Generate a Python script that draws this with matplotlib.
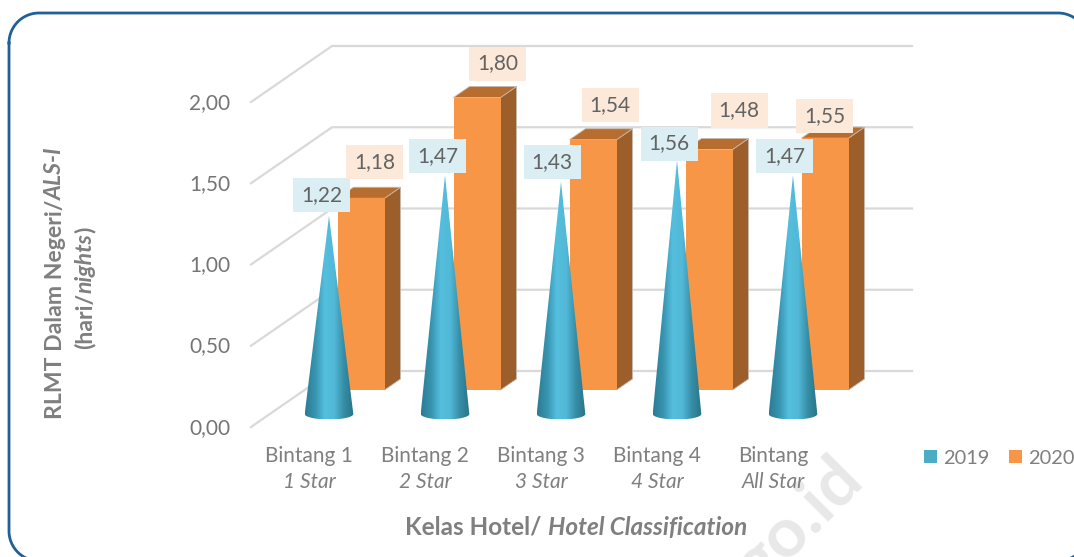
import numpy as np
import matplotlib
matplotlib.use("Agg")
import matplotlib.pyplot as plt
from matplotlib.lines import Line2D
from matplotlib.patches import Polygon, Rectangle, Patch
from matplotlib.colors import LinearSegmentedColormap
from matplotlib.transforms import IdentityTransform, ScaledTranslation

categories = ["Bintang 1", "Bintang 2", "Bintang 3", "Bintang 4", "Bintang"]
categories_en = ["1 Star", "2 Star", "3 Star", "4 Star", "All Star"]
values_2019 = [1.22, 1.47, 1.43, 1.56, 1.47]
values_2020 = [1.18, 1.80, 1.54, 1.48, 1.55]
y_ticks = [0.0, 0.5, 1.0, 1.5, 2.0]

W, H = 1074, 557
plt.rcParams["font.family"] = ["Lato", "DejaVu Sans"]
fig = plt.figure(figsize=(W / 100, H / 100), dpi=100, facecolor="white")

# plot plane, in pixels from top-left of the picture
L, R, T, B = 251, 831, 102, 427
ax = fig.add_axes([L / W, 1 - B / H, (R - L) / W, (B - T) / H])
ax.set_xlim(-0.5, 4.5)
ax.set_ylim(0, 2)
ax.patch.set_visible(False)
for s in ax.spines.values():
    s.set_visible(False)
PX = 1 / 116          # one pixel in category units
PY = 1 / 162.5        # one pixel in value units

GREY = "#7f7f7f"
ax.set_yticks(y_ticks)
ax.set_yticklabels([f"{v:.2f}".replace(".", ",") for v in y_ticks], fontsize=15, color="#757575")
ax.set_xticks(range(len(categories)))
ax.set_xticklabels(categories, fontsize=15, color=GREY)
ax.tick_params(axis="y", length=0, pad=15)
ax.tick_params(axis="x", length=0, pad=14)
up = ScaledTranslation(0, 1.2 / 100, fig.dpi_scale_trans)
for lab in ax.get_yticklabels():
    lab.set_transform(lab.get_transform() + up)
for i, t in enumerate(categories_en):
    ax.text(i, -0.338, t, fontsize=15, style="italic", color=GREY, ha="center", va="center")

# walls
DEPTH_X, DEPTH_Y = 81 * PX, 56 * PY
for v in y_ticks:
    ax.plot([-0.5, -0.5 + DEPTH_X, 4.5 + DEPTH_X], [v, v + DEPTH_Y, v + DEPTH_Y],
            color="#d9d9d9", lw=1.6, clip_on=False, zorder=1, solid_joinstyle="miter")

# 2020 box bars
BAR_BASE = 37 * PY
BAR_W = 47 * PX
BAR_OFF = 28.5 * PX
SIDE_X, SIDE_Y = 16 * PX, 11 * PY
for i, v in enumerate(values_2020):
    x0 = i + BAR_OFF
    x1 = x0 + BAR_W
    y0, y1 = BAR_BASE, BAR_BASE + v
    ax.add_patch(Polygon([(x1, y0), (x1 + SIDE_X, y0 + SIDE_Y), (x1 + SIDE_X, y1 + SIDE_Y), (x1, y1)],
                         closed=True, fc="#9c5e2a", ec="#c4b9ae", lw=0.6, clip_on=False, zorder=2))
    ax.add_patch(Polygon([(x0, y1), (x1, y1), (x1 + SIDE_X, y1 + SIDE_Y), (x0 + SIDE_X, y1 + SIDE_Y)],
                         closed=True, fc="#b66d2e", ec="#c4b9ae", lw=0.6, clip_on=False, zorder=2))
    ax.add_patch(Rectangle((x0, y0), BAR_W, v, fc="#f79646", ec="none", clip_on=False, zorder=2.1))

# 2019 cones
cone_cmap = LinearSegmentedColormap.from_list(
    "cone", ["#2c7c94", "#3793ae", "#55bede", "#52b9d8", "#358da5", "#287489"])
gradient = np.linspace(0, 1, 128).reshape(1, -1)
CONE_OFF = 20 * PX
CONE_HALF = 24.3 * PX
CONE_BASE = 13 * PY
CONE_RY = 5.5 * PY
theta = np.linspace(np.pi, 2 * np.pi, 40)
for i, v in enumerate(values_2019):
    c = i + CONE_OFF
    arc = np.column_stack([c + CONE_HALF * np.cos(theta), CONE_BASE + CONE_RY * np.sin(theta)])
    poly = Polygon(np.vstack([[[c, CONE_BASE + v]], arc]), closed=True,
                   transform=ax.transData, fc="none", ec="none")
    ax.add_patch(poly)
    poly.set_clip_on(False)
    im = ax.imshow(gradient, extent=(c - CONE_HALF, c + CONE_HALF, CONE_BASE - CONE_RY, CONE_BASE + v),
                   aspect="auto", cmap=cone_cmap, zorder=3, interpolation="bilinear")
    im.set_clip_box(fig.bbox)
    im.set_clip_path(poly)
ax.set_xlim(-0.5, 4.5)
ax.set_ylim(0, 2)

# data labels (box offset from its mark, in pixels)
LAB_W, LAB_H = 57 * PX, 34 * PY
off_2019 = [(-7.5, 21), (-7.5, 19), (-9, 20), (-8, 17), (-8.5, 19)]
off_2020 = [(13.5, 25), (20.5, 23), (17, 24), (30, 28), (-0.5, 11)]
def label(x, y, s, fc):
    ax.add_patch(Rectangle((x - LAB_W / 2, y - LAB_H / 2), LAB_W, LAB_H, fc=fc, ec="none",
                           clip_on=False, zorder=5))
    ax.text(x, y, s, ha="center", va="center", fontsize=15, color="#636363", zorder=6)
for i, v in enumerate(values_2019):
    dx, dy = off_2019[i]
    label(i + CONE_OFF + dx * PX, CONE_BASE + v + dy * PY, f"{v:.2f}".replace(".", ","), "#daeef3")
for i, v in enumerate(values_2020):
    dx, dy = off_2020[i]
    label(i + BAR_OFF + BAR_W / 2 + dx * PX, BAR_BASE + v + 11 * PY + dy * PY,
          f"{v:.2f}".replace(".", ","), "#fde9d9")

# legend
ax.legend(handles=[Patch(fc="#4bacc6", label="2019"), Patch(fc="#f79646", label="2020")],
          ncol=2, frameon=False, loc="center left", fontsize=14.4, labelcolor=GREY,
          bbox_to_anchor=((924 - L) / (R - L), (B - 458) / (B - T)), borderpad=0, borderaxespad=0,
          handlelength=0.65, handleheight=0.62, handletextpad=0.3, columnspacing=1.0)

# frame and watermark in picture pixels
px = IdentityTransform()
x_l, x_r, y_t, y_b, rad = 9, 1088, 13, 561, 30
t = np.linspace(0, np.pi / 2, 30)
fx = np.concatenate([x_l + rad - rad * np.cos(t), x_r - rad + rad * np.sin(t),
                     x_r - rad + rad * np.cos(t), x_l + rad - rad * np.sin(t), [x_l]])
fy = np.concatenate([y_t + rad - rad * np.sin(t), y_t + rad - rad * np.cos(t),
                     y_b - rad + rad * np.sin(t), y_b - rad + rad * np.cos(t), [y_t + rad]])
fig.add_artist(Line2D(fx, H - fy, color="#1f6097", lw=2.0, transform=px, zorder=1))
fig.text(853 / W, 1 - 470 / H, "go.id", rotation=45, rotation_mode="anchor", ha="right", va="center",
         fontsize=50, fontweight="bold", color="#e8e8e8", zorder=-1)

# mixed roman / italic bold titles, laid out from measured widths
renderer = fig.canvas.get_renderer()
def mixed(cx, cy, pieces, rotation=0, size=16.6):
    arts = [fig.text(0, 0, t, fontsize=size, fontweight="bold", style=st, color=GREY, rotation=rotation,
                     rotation_mode="anchor", ha="left", va="center", transform=px) for t, st in pieces]
    widths = []
    for a in arts:
        a.set_rotation(0)
        widths.append(a.get_window_extent(renderer).width)
        a.set_rotation(rotation)
    pos = -sum(widths) / 2
    ang = np.deg2rad(rotation)
    for a, w in zip(arts, widths):
        a.set_position((cx + pos * np.cos(ang), H - cy + pos * np.sin(ang)))
        pos += w
mixed(576, 527, [("Kelas Hotel/ ", "normal"), ("Hotel Classification", "italic")], size=17.5)
mixed(55, 283, [("RLMT Dalam Negeri/", "normal"), ("ALS-I", "italic")], rotation=90)
mixed(85, 288, [("(hari/", "normal"), ("nights", "italic"), (")", "normal")], rotation=90)

fig.savefig("out.png", dpi=100)
